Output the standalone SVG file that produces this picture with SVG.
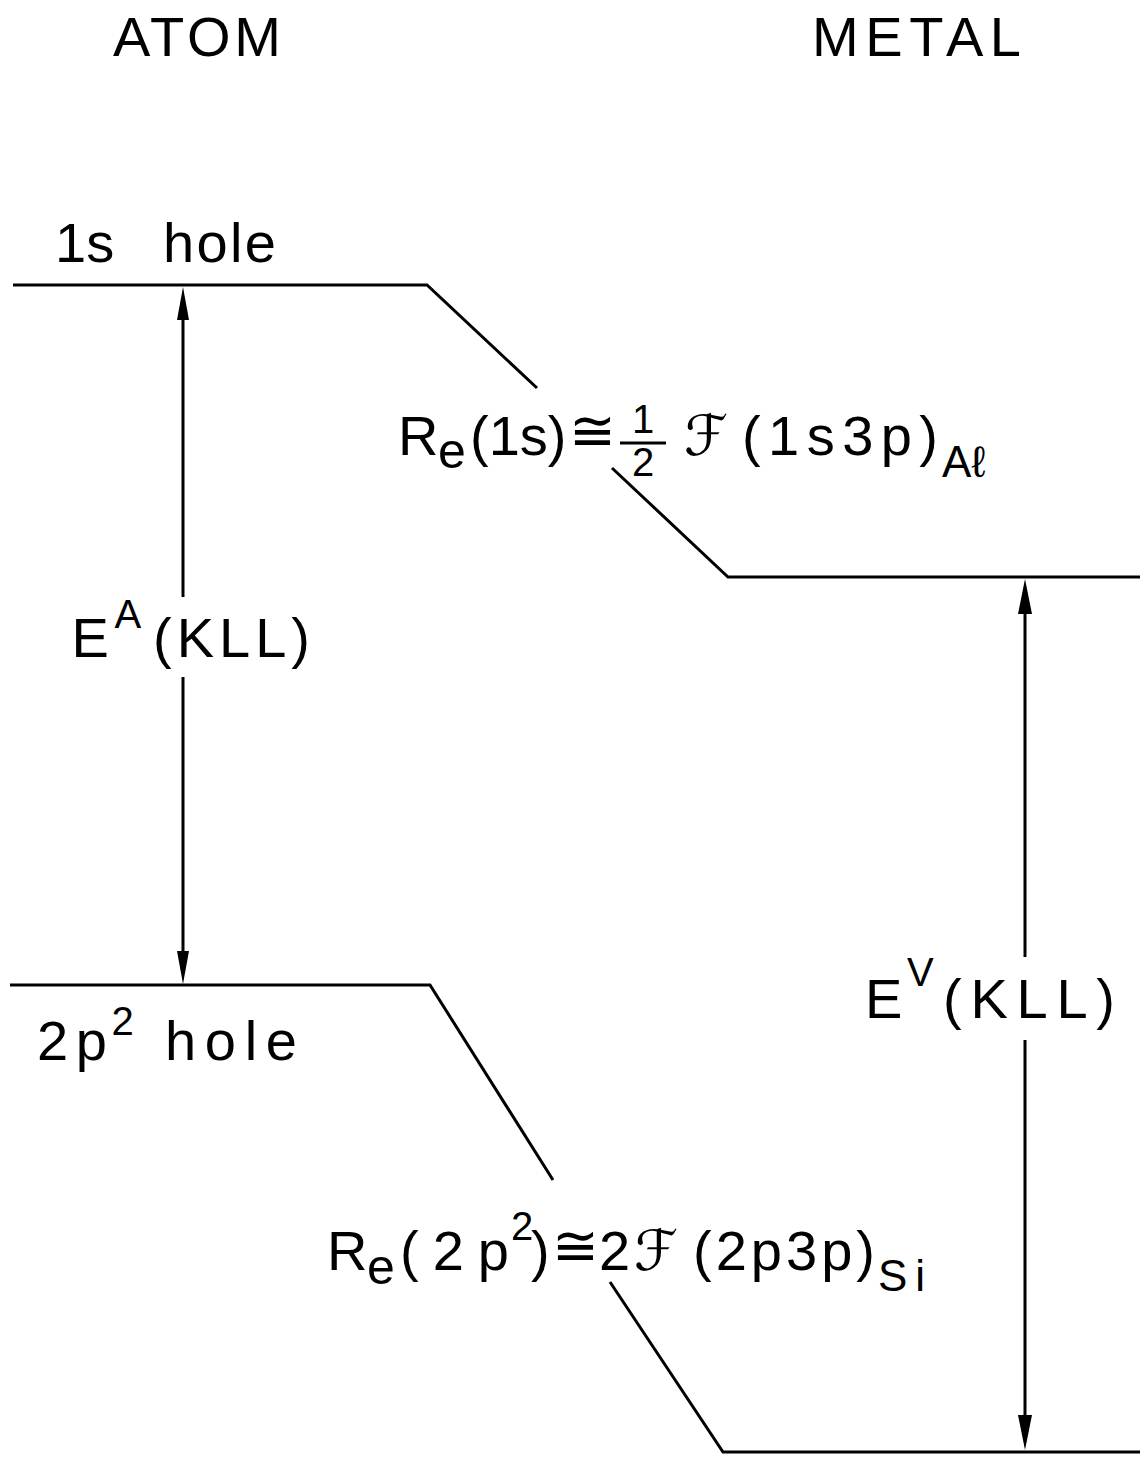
<svg xmlns="http://www.w3.org/2000/svg" width="1140" height="1460" viewBox="0 0 1140 1460">
<style>
text{font-family:"Liberation Sans","DejaVu Sans",sans-serif;fill:#000;font-size:56px}
.sub{font-size:44px}
.sup{font-size:40px}
.e{font-size:50px}
.sym{font-family:"DejaVu Sans","Liberation Sans",sans-serif}
.ln{stroke:#000;stroke-width:3;fill:none}
.ah{fill:#000}
</style>
<rect width="1140" height="1460" fill="#fff"/>
<g id="headers">
<text x="113" y="56" textLength="168" lengthAdjust="spacing">ATOM</text>
<text x="812" y="56" textLength="209" lengthAdjust="spacing">METAL</text>
</g>
<g id="connectors">
<path class="ln" d="M13,285 H427 L537,388"/>
<path class="ln" d="M612,468 L728,577 H1140"/>
<path class="ln" d="M10,985 H430 L553,1180"/>
<path class="ln" d="M610,1282 L723,1452 H1140"/>
<path class="ln" d="M183,300 V597 M183,677 V970"/>
<polygon class="ah" points="183,287 177,320 189,320"/>
<polygon class="ah" points="183,984 177,951 189,951"/>
<path class="ln" d="M1025,595 V957 M1025,1040 V1435"/>
<polygon class="ah" points="1025,579 1018,614 1032,614"/>
<polygon class="ah" points="1025,1450 1018,1415 1032,1415"/>
</g>
<g id="level-1s">
<text x="55" y="262">1s</text>
<text x="163" y="262" textLength="113" lengthAdjust="spacing">hole</text>
</g>
<g id="level-2p2">
<text x="37" y="1060" textLength="70" lengthAdjust="spacing">2p</text>
<text class="sup" x="111.5" y="1035">2</text>
<text x="165" y="1060" textLength="132" lengthAdjust="spacing">hole</text>
</g>
<g id="label-EA">
<text x="71.5" y="657">E</text>
<text class="sup" x="114.5" y="628">A</text>
<text x="153" y="657" textLength="157" lengthAdjust="spacing">(KLL)</text>
</g>
<g id="label-EV">
<text x="865" y="1018">E</text>
<text class="sup" x="907" y="986">V</text>
<text x="943" y="1018" textLength="172" lengthAdjust="spacing">(KLL)</text>
</g>
<g id="label-Re1s">
<text x="398" y="455">R</text>
<text class="e" x="438" y="468">e</text>
<text x="470" y="455">(1s)</text>
<text class="sym" x="569" y="450" font-size="44">≅</text>
<text class="sup" x="632" y="433">1</text>
<line x1="620" y1="443" x2="666" y2="443" stroke="#000" stroke-width="3"/>
<text class="sup" x="632" y="476">2</text>
<text class="sym" x="684" y="455" font-size="58">ℱ</text>
<text x="742" y="455" textLength="196" lengthAdjust="spacing">(1s3p)</text>
<text class="sub" x="942" y="477">Aℓ</text>
</g>
<g id="label-Re2p2">
<text x="327" y="1270">R</text>
<text class="e" x="367" y="1284">e</text>
<text x="400" y="1270" textLength="109" lengthAdjust="spacing">(2p</text>
<text class="sup" x="511" y="1240">2</text>
<text x="531" y="1270">)</text>
<text class="sym" x="552" y="1265" font-size="44">≅</text>
<text x="599" y="1270">2</text>
<text class="sym" x="634" y="1270" font-size="58">ℱ</text>
<text x="693" y="1270" textLength="182" lengthAdjust="spacing">(2p3p)</text>
<text class="sub" x="878" y="1291" textLength="47" lengthAdjust="spacing">Si</text>
</g>
</svg>
